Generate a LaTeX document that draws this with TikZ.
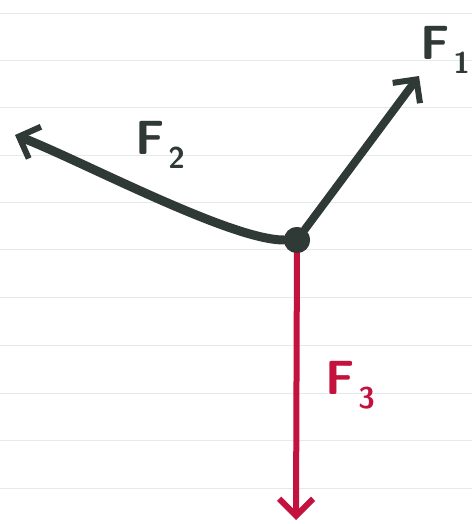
\documentclass[tikz,border=0pt]{standalone}
\usepackage{xcolor}
\usepackage{tikz}
\usetikzlibrary{arrows.meta}

\definecolor{inkgrey}{HTML}{2F3935}
\definecolor{inkred}{HTML}{C4123E}
\definecolor{ruling}{HTML}{E4E9ED}

\newcommand{\forcelabel}[1]{\fontsize{48}{48}\selectfont F\kern4pt\raisebox{-14pt}{\fontsize{30}{30}\selectfont #1}}

\begin{document}
\begin{tikzpicture}[x=1pt, y=-1pt,
  force/.style={line width=8pt, line cap=round, -{Straight Barb[length=17pt, width=34pt, line width=6pt]}},
  flabel/.style={font=\sffamily\bfseries, inner sep=0pt}]
\useasboundingbox[fill=white] (0,0) rectangle (472,524);
% ruled paper
\foreach \y in {14,61,108,155,202,249,297,345,393,440,488} {
  \draw[ruling, line width=1pt] (0,\y) -- (472,\y);
}
% point and force tips
\node[circle, fill=inkgrey, minimum size=26pt, inner sep=0pt] (o) at (297,240) {};
\coordinate (f1tip) at (419,76);
\coordinate (f2tip) at (15,135);
\coordinate (f3tip) at (296,520);
% forces
\draw[force, inkred, line width=6pt] (o) -- (f3tip);
\draw[force, inkgrey] (o) -- (f1tip);
\draw[force, inkgrey, line width=9pt] (o) .. controls (230,240) and (80,160) .. (f2tip);
\node[circle, fill=inkgrey, minimum size=26pt, inner sep=0pt] at (o) {};
% labels
\node[flabel, text=inkgrey] (l1) at (445,50) {\forcelabel{1}};
\node[flabel, text=inkgrey] (l2) at (160,145) {\forcelabel{2}};
\node[flabel, text=inkred] (l3) at (350,385) {\forcelabel{3}};
\end{tikzpicture}
\end{document}
